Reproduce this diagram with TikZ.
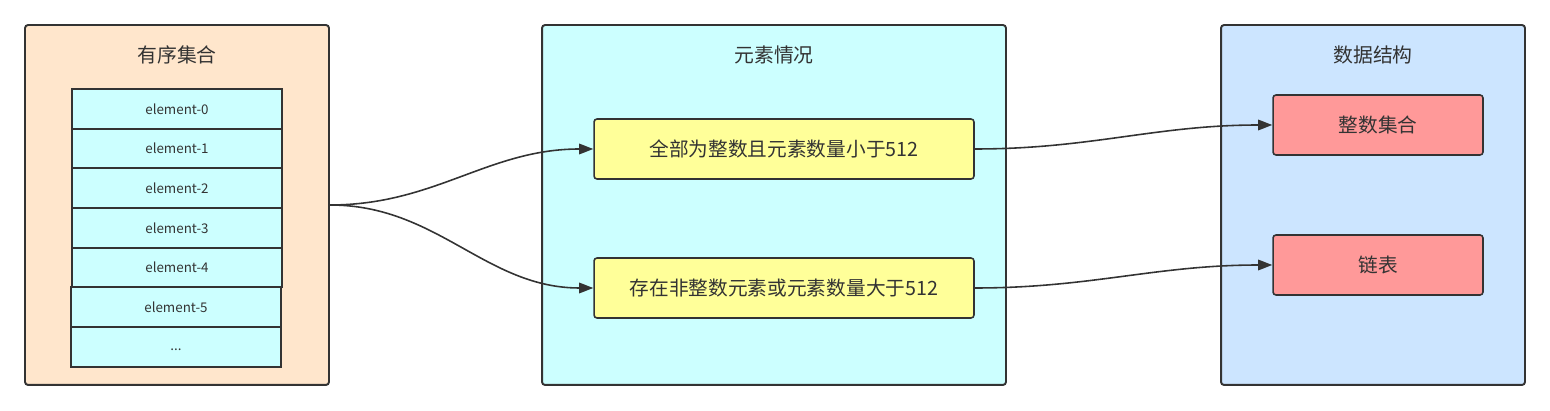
\documentclass[tikz,border=0pt]{standalone}
\usepackage{fontspec}
\setmainfont{Noto Sans CJK SC}
\usepackage{xcolor}
\usetikzlibrary{arrows.meta}
\definecolor{ink}{HTML}{333333}
\definecolor{peach}{HTML}{FFE6CC}
\definecolor{cyanbg}{HTML}{CCFFFF}
\definecolor{bluebg}{HTML}{CCE5FF}
\definecolor{yellowbox}{HTML}{FFFF99}
\definecolor{redbox}{HTML}{FF9999}
\tikzset{
  group/.style={draw=ink, line width=1.1pt, rounded corners=1.7pt, minimum width=6.08cm, minimum height=7.2cm, inner sep=0pt},
  cell/.style={draw=ink, line width=1.1pt, fill=cyanbg, minimum width=4.2cm, minimum height=0.794cm, inner sep=0pt, anchor=north, font=\fontsize{7.6}{9}\selectfont, text=ink},
  case/.style={draw=ink, line width=0.9pt, rounded corners=1.7pt, minimum height=1.2cm, inner sep=0pt, font=\fontsize{11.2}{13}\selectfont, text=ink},
  title/.style={font=\fontsize{11.3}{13}\selectfont, text=ink},
  link/.style={draw=ink, line width=0.9pt, -{Triangle[length=8pt,width=6pt]}}
}

\begin{document}
\begin{tikzpicture}[x=0.02cm, y=-0.02cm]
\useasboundingbox (0,0) rectangle (1550,411);

% containers
\node[group, fill=peach] (set) at (177,205) {};
\node[group, fill=cyanbg, minimum width=9.28cm] (cond) at (774,205) {};
\node[group, fill=bluebg] (impl) at (1373,205) {};
\node[title] (settitle) at (177,55) {有序集合};
\node[title] (condtitle) at (774,55) {元素情况};
\node[title] (impltitle) at (1373,55) {数据结构};

% elements
\foreach \i in {0,...,4}
  \node[cell] (e\i) at (177,88+39.7*\i) {element-\i};
\node[cell] (e5) at (176,88+39.7*5) {element-5};
\node[cell] (e6) at (176,88+39.7*6) {\strut...};

% cases and encodings
\node[case, fill=yellowbox, minimum width=7.6cm] (small) at (784,149) {全部为整数且元素数量小于512};
\node[case, fill=yellowbox, minimum width=7.6cm] (large) at (784,288) {存在非整数元素或元素数量大于512};
\node[case, fill=redbox, minimum width=4.2cm] (intset) at (1378,125) {整数集合};
\node[case, fill=redbox, minimum width=4.2cm] (list) at (1378,265) {链表};

\draw[link] (set.east) to[out=0, in=180] (small.west);
\draw[link] (set.east) to[out=0, in=180] (large.west);
\draw[link] (small.east) to[out=0, in=180] (intset.west);
\draw[link] (large.east) to[out=0, in=180] (list.west);
\end{tikzpicture}
\end{document}
